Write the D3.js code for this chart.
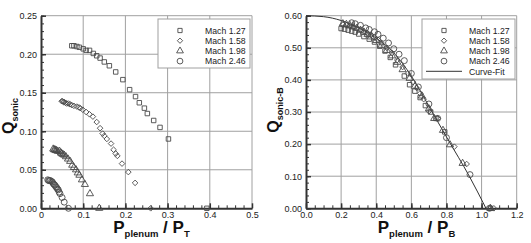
<!DOCTYPE html>
<html><head><meta charset="utf-8">
<script src="https://cdn.jsdelivr.net/npm/d3@7"></script>
<style>
body{margin:0;background:#fff;}
svg text{font-family:"Liberation Sans",Arial,sans-serif;}
</style></head><body>
<svg id="c" width="531" height="243"></svg>
<script>
// ---- Left chart data: Q_sonic vs Pplenum/PT ----
const seriesNames = ["Mach 1.27","Mach 1.58","Mach 1.98","Mach 2.46"];
const leftM127 = [[0.073,0.211],[0.078,0.211],[0.085,0.210],[0.091,0.209],[0.100,0.207],[0.107,0.205],[0.115,0.205],[0.124,0.201],[0.132,0.198],[0.140,0.195],[0.150,0.190],[0.162,0.185],[0.177,0.177],[0.194,0.167],[0.210,0.154],[0.224,0.145],[0.233,0.137],[0.245,0.130],[0.252,0.123],[0.267,0.114],[0.282,0.105],[0.302,0.090],[0.393,0.000]];
const leftM158 = [[0.049,0.139],[0.051,0.139],[0.053,0.138],[0.055,0.138],[0.058,0.137],[0.061,0.136],[0.065,0.136],[0.069,0.135],[0.073,0.134],[0.078,0.133],[0.085,0.132],[0.090,0.131],[0.093,0.130],[0.099,0.128],[0.107,0.125],[0.115,0.122],[0.123,0.119],[0.132,0.112],[0.140,0.104],[0.146,0.097],[0.150,0.094],[0.156,0.090],[0.166,0.084],[0.172,0.076],[0.177,0.071],[0.181,0.068],[0.192,0.058],[0.207,0.047],[0.223,0.033],[0.260,0.000]];
const leftM198 = [[0.029,0.077],[0.031,0.076],[0.033,0.076],[0.035,0.075],[0.037,0.075],[0.040,0.074],[0.044,0.074],[0.047,0.072],[0.049,0.071],[0.052,0.070],[0.055,0.069],[0.059,0.067],[0.064,0.064],[0.069,0.061],[0.074,0.056],[0.078,0.053],[0.083,0.050],[0.087,0.046],[0.091,0.043],[0.097,0.037],[0.104,0.031],[0.116,0.019],[0.138,0.000]];
const leftM246 = [[0.016,0.037],[0.018,0.036],[0.020,0.036],[0.022,0.036],[0.025,0.035],[0.027,0.034],[0.029,0.032],[0.031,0.031],[0.033,0.030],[0.035,0.028],[0.037,0.027],[0.039,0.025],[0.041,0.024],[0.043,0.021],[0.045,0.019],[0.050,0.014],[0.055,0.008],[0.065,0.000]];

// ---- Right chart data: Q_sonic-B vs Pplenum/PB ----
const rightM127 = [[0.20,0.560],[0.22,0.558],[0.24,0.555],[0.26,0.552],[0.28,0.549],[0.30,0.543],[0.33,0.535],[0.36,0.527],[0.39,0.518],[0.42,0.505],[0.45,0.490],[0.48,0.470],[0.51,0.447],[0.56,0.412],[0.59,0.385],[0.62,0.365],[0.65,0.345],[0.68,0.320],[0.71,0.300],[0.74,0.280],[0.79,0.238],[1.05,0.000]];
const rightM158 = [[0.21,0.572],[0.23,0.570],[0.25,0.567],[0.27,0.564],[0.29,0.560],[0.31,0.556],[0.33,0.551],[0.35,0.546],[0.37,0.540],[0.39,0.532],[0.41,0.525],[0.43,0.515],[0.46,0.500],[0.49,0.484],[0.52,0.462],[0.55,0.440],[0.58,0.420],[0.61,0.393],[0.63,0.375],[0.65,0.358],[0.67,0.340],[0.70,0.302],[0.75,0.280],[0.845,0.192],[0.915,0.138],[1.07,0.000]];
const rightM198 = [[0.21,0.575],[0.23,0.573],[0.25,0.570],[0.27,0.566],[0.29,0.561],[0.31,0.555],[0.33,0.549],[0.35,0.542],[0.37,0.534],[0.40,0.523],[0.43,0.508],[0.46,0.492],[0.49,0.475],[0.52,0.455],[0.55,0.432],[0.59,0.405],[0.62,0.380],[0.66,0.350],[0.70,0.310],[0.73,0.280],[0.78,0.243],[0.82,0.198],[0.892,0.140],[1.05,0.000]];
const rightM246 = [[0.26,0.578],[0.28,0.575],[0.31,0.570],[0.34,0.562],[0.36,0.557],[0.39,0.550],[0.41,0.542],[0.44,0.530],[0.47,0.515],[0.50,0.497],[0.53,0.480],[0.56,0.460],[0.60,0.420],[0.64,0.378],[0.70,0.325],[0.75,0.280],[0.80,0.220],[0.934,0.105],[1.045,0.000]];
const curveFit = [[0,0.600],[0.10,0.597],[0.20,0.585],[0.30,0.562],[0.40,0.530],[0.50,0.484],[0.60,0.412],[0.70,0.318],[0.75,0.270],[0.81,0.213],[0.93,0.100],[1.025,0.000]];

const leftXTicks = [0,0.1,0.2,0.3,0.4,0.5];
const leftYTicks = [0,0.05,0.10,0.15,0.20,0.25];
const rightXTicks = [0,0.2,0.4,0.6,0.8,1.0,1.2];
const rightYTicks = [0,0.1,0.2,0.3,0.4,0.5,0.6];

const svg = d3.select("#c");
const diamond = {draw(ctx,size){const r=Math.sqrt(size)/2*1.25;ctx.moveTo(0,-r);ctx.lineTo(r,0);ctx.lineTo(0,r);ctx.lineTo(-r,0);ctx.closePath();}};
const symbols = [d3.symbolSquare, diamond, d3.symbolTriangle, d3.symbolCircle];
const symSizes = [20, 20, 22, 28];
const mcol = "#4a4a4a";

function panel(opts){
  const {x0,x1,y0,y1,xdom,ydom,xticks,yticks,xminor,yminor,xfmt,yfmt,series,fit,legend,ysub,xsub,yc,xc} = opts;
  const g = svg.append("g");
  const x = d3.scaleLinear().domain(xdom).range([x0,x1]);
  const y = d3.scaleLinear().domain(ydom).range([y1,y0]);
  // grid
  g.selectAll(null).data(xticks.slice(1)).join("line")
    .attr("x1",d=>x(d)).attr("x2",d=>x(d)).attr("y1",y0).attr("y2",y1)
    .attr("stroke","#a0a0a0").attr("stroke-width",1);
  g.selectAll(null).data(yticks.slice(1)).join("line")
    .attr("y1",d=>y(d)).attr("y2",d=>y(d)).attr("x1",x0).attr("x2",x1)
    .attr("stroke","#a0a0a0").attr("stroke-width",1);
  // legend box
  const lg = legend;
  g.append("rect").attr("x",lg.x).attr("y",lg.y).attr("width",lg.w).attr("height",lg.h)
    .attr("fill","#fff").attr("stroke","#a0a0a0").attr("stroke-width",1);
  // axes
  const xa = g.append("g").attr("transform",`translate(0,${y1})`)
    .call(d3.axisBottom(x).tickValues(xticks).tickFormat(xfmt).tickSizeInner(-5).tickSizeOuter(0).tickPadding(3));
  const ya = g.append("g").attr("transform",`translate(${x0},0)`)
    .call(d3.axisLeft(y).tickValues(yticks).tickFormat(yfmt).tickSizeInner(-5).tickSizeOuter(0).tickPadding(4));
  [xa,ya].forEach(a=>{
    a.select(".domain").attr("stroke","#333").attr("stroke-width",2);
    a.selectAll(".tick line").attr("stroke","#333").attr("stroke-width",1.5);
    a.selectAll("text").attr("font-size",9).attr("fill","#222");
  });
  g.append("g").attr("transform",`translate(0,${y1})`)
    .call(d3.axisBottom(x).tickValues(xminor).tickFormat("").tickSizeInner(-3).tickSizeOuter(0))
    .call(a=>{a.select(".domain").remove();a.selectAll("line").attr("stroke","#333");});
  g.append("g").attr("transform",`translate(${x0},0)`)
    .call(d3.axisLeft(y).tickValues(yminor).tickFormat("").tickSizeInner(-3).tickSizeOuter(0))
    .call(a=>{a.select(".domain").remove();a.selectAll("line").attr("stroke","#333");});
  // curve fit
  if(fit){
    g.append("path").datum(fit).attr("fill","none").attr("stroke","#333").attr("stroke-width",1)
      .attr("d",d3.line().curve(d3.curveMonotoneX).x(d=>x(d[0])).y(d=>y(d[1])));
  }
  // series
  series.forEach((s,i)=>{
    const sym = d3.symbol().type(symbols[i]).size(symSizes[i]);
    g.selectAll(null).data(s).join("path")
      .attr("transform",d=>`translate(${x(d[0])},${y(d[1])})`)
      .attr("d",sym).attr("fill","none").attr("stroke",mcol).attr("stroke-width",0.9);
  });
  // legend entries
  seriesNames.forEach((n,i)=>{
    const yy = lg.y + 11.5 + i*10.2;
    g.append("path").attr("transform",`translate(${lg.mx},${yy})`)
      .attr("d",d3.symbol().type(symbols[i]).size(symSizes[i]-2)).attr("fill","none").attr("stroke",mcol).attr("stroke-width",0.9);
    g.append("text").attr("x",lg.tx).attr("y",yy+3.2).attr("font-size",8.7).attr("fill","#222").text(n);
  });
  if(fit){
    const yy = lg.y + 11.5 + 4*10.2;
    g.append("line").attr("x1",lg.lx1).attr("x2",lg.lx2).attr("y1",yy).attr("y2",yy).attr("stroke","#333");
    g.append("text").attr("x",lg.tx).attr("y",yy+3.2).attr("font-size",8.7).attr("fill","#222").text("Curve-Fit");
  }
  // y title
  const yt = g.append("text").attr("transform",`translate(${x0-27},${yc}) rotate(-90)`)
    .attr("text-anchor","middle").attr("font-weight","bold").attr("fill","#111");
  yt.append("tspan").attr("font-size",16).text("Q");
  yt.append("tspan").attr("font-size",9).attr("dy",4).text(ysub);
  // x title
  const xt = g.append("text").attr("x",xc).attr("y",y1+25).attr("text-anchor","middle")
    .attr("font-weight","bold").attr("fill","#111");
  xt.append("tspan").attr("font-size",17).text("P");
  xt.append("tspan").attr("font-size",9.5).attr("dy",4).text("plenum");
  xt.append("tspan").attr("font-size",17).attr("dy",-4).text(" / P");
  xt.append("tspan").attr("font-size",9.5).attr("dy",4).text(xsub);
}

panel({x0:41,x1:252,y0:15.7,y1:208.3,xdom:[0,0.5],ydom:[0,0.25],
  xticks:leftXTicks,yticks:leftYTicks,
  xminor:d3.range(0,0.5001,0.02),yminor:d3.range(0,0.2501,0.01),
  xfmt:d=>d===0?"0":d3.format(".1f")(d),yfmt:d3.format(".2f"),
  series:[leftM127,leftM158,leftM198,leftM246],fit:null,
  legend:{x:158,y:19,w:92,h:49,mx:180,tx:205},
  ysub:"sonic",xsub:"T",yc:116,xc:151.5});

panel({x0:306,x1:516.7,y0:15.7,y1:208.3,xdom:[0,1.2],ydom:[0,0.6],
  xticks:rightXTicks,yticks:rightYTicks,
  xminor:d3.range(0,1.2001,0.05),yminor:d3.range(0,0.6001,0.02),
  xfmt:d3.format(".1f"),yfmt:d3.format(".2f"),
  series:[rightM127,rightM158,rightM198,rightM246],fit:curveFit,
  legend:{x:422,y:19,w:93,h:60,mx:444,tx:469,lx1:426,lx2:462},
  ysub:"sonic-B",xsub:"B",yc:110,xc:416.5});
</script>
</body></html>
